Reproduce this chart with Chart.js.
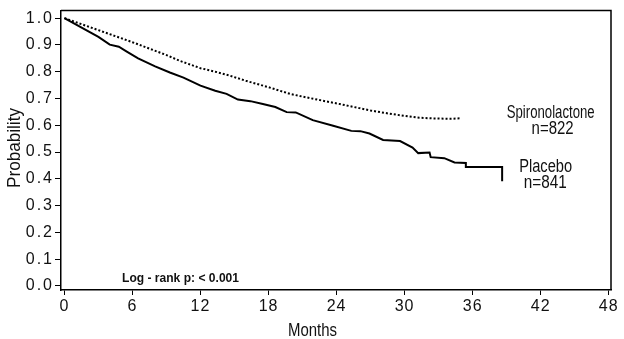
<!DOCTYPE html>
<html>
<head>
<meta charset="utf-8">
<script src="https://cdn.jsdelivr.net/npm/chart.js@4/dist/chart.umd.min.js"></script>
<style>
html,body{margin:0;padding:0;background:#fff;}
#wrap{width:624px;height:339px;position:relative;}
</style>
</head>
<body>
<div id="wrap"><canvas id="c" width="624" height="339"></canvas></div>
<script>
// ---- data ----
const xTickValues = [0, 6, 12, 18, 24, 30, 36, 42, 48];
const yTickValues = [0.0, 0.1, 0.2, 0.3, 0.4, 0.5, 0.6, 0.7, 0.8, 0.9, 1.0];

const spiroMonths = [0, 3, 6, 9, 10.2, 12, 13.3, 14.6, 16, 18, 19.9, 21, 22.5, 24.3, 26, 27, 28.7, 30, 31.3, 32.2, 33.1, 34, 34.9];
const spiroProb   = [1.0, 0.955, 0.91, 0.862, 0.84, 0.813, 0.80, 0.785, 0.766, 0.742, 0.717, 0.707, 0.694, 0.679, 0.664, 0.655, 0.643, 0.635, 0.628, 0.626, 0.625, 0.624, 0.626];

const placeboMonths = [0, 1, 2, 3, 4, 4.8, 5.5, 6.5, 8, 9.3, 10.5, 12, 13.3, 14.3, 15.3, 16.4, 17.5, 18.6, 19.6, 20.4, 21.9, 23.7, 25.3, 26.1, 26.9, 28.1, 29.6, 30.7, 31.2, 32.2, 32.3, 33.5, 34.4, 35.4, 35.4, 38.6, 38.6];
const placeboProb   = [1.0, 0.977, 0.953, 0.93, 0.901, 0.893, 0.875, 0.85, 0.82, 0.797, 0.778, 0.748, 0.729, 0.717, 0.696, 0.69, 0.679, 0.668, 0.649, 0.648, 0.619, 0.598, 0.579, 0.578, 0.569, 0.545, 0.541, 0.517, 0.496, 0.498, 0.481, 0.477, 0.461, 0.459, 0.444, 0.444, 0.391];

const seriesNames = ['Spironolactone', 'Placebo'];
const seriesCounts = ['n=822', 'n=841'];
const pValueText = 'Log - rank p: < 0.001';
const xTitle = 'Months';
const yTitle = 'Probability';

// ---- styling ----
const FONT = "'Liberation Sans', Arial, sans-serif";
const INK = '#111';

function toPoints(xs, ys) { return xs.map((x, i) => ({ x: x, y: ys[i] })); }

// text labels anchored in data coordinates (months, probability)
const annotations = [
  { text: seriesNames[0],  x: 39.0, y: 0.626, w: 88, size: 18, bold: false },
  { text: seriesCounts[0], x: 41.2, y: 0.567, w: 42, size: 18, bold: false },
  { text: seriesNames[1],  x: 40.1, y: 0.427, w: 53, size: 18, bold: false },
  { text: seriesCounts[1], x: 40.5, y: 0.366, w: 43, size: 18, bold: false },
  { text: pValueText,      x: 5.08, y: 0.015, w: 117, size: 13, bold: true }
];

const decorPlugin = {
  id: 'decor',
  beforeDraw(chart) {
    // letter-spaced tick labels like the reference
    Object.values(chart.scales).forEach(s => {
      if (s._wrapped) return;
      const orig = s.drawLabels;
      const sp = s.axis === 'y' ? '2px' : '1px';
      s.drawLabels = function (ca) {
        const ctx = this.ctx;
        ctx.save();
        ctx.letterSpacing = sp;
        orig.call(this, ca);
        ctx.restore();
      };
      s._wrapped = true;
    });
  },
  afterDraw(chart) {
    const ctx = chart.ctx;
    const a = chart.chartArea;
    const xs = chart.scales.x, ys = chart.scales.y;
    ctx.save();
    // top and right frame lines
    ctx.strokeStyle = '#000';
    ctx.lineWidth = 1.5;
    ctx.beginPath();
    ctx.moveTo(a.left, a.top);
    ctx.lineTo(a.right, a.top);
    ctx.lineTo(a.right, a.bottom);
    ctx.stroke();

    ctx.fillStyle = INK;
    ctx.textBaseline = 'alphabetic';
    ctx.textAlign = 'left';
    annotations.forEach(t => {
      ctx.font = (t.bold ? 'bold ' : '') + t.size + 'px ' + FONT;
      ctx.fillText(t.text, xs.getPixelForValue(t.x), ys.getPixelForValue(t.y), t.w);
    });

    // axis titles
    ctx.font = '18px ' + FONT;
    ctx.textAlign = 'left';
    ctx.fillText(xTitle, 288, 335.5, 49);
    ctx.save();
    ctx.translate(20, 148);
    ctx.rotate(-Math.PI / 2);
    ctx.textAlign = 'center';
    ctx.fillText(yTitle, 0, 0, 80);
    ctx.restore();
    ctx.restore();
  }
};

new Chart(document.getElementById('c'), {
  type: 'scatter',
  data: {
    datasets: [
      {
        label: seriesNames[0],
        data: toPoints(spiroMonths, spiroProb),
        showLine: true,
        borderColor: '#000',
        borderWidth: 2,
        borderDash: [2, 2],
        pointRadius: 0,
        fill: false,
        tension: 0
      },
      {
        label: seriesNames[1],
        data: toPoints(placeboMonths, placeboProb),
        showLine: true,
        borderColor: '#000',
        borderWidth: 2,
        pointRadius: 0,
        fill: false,
        tension: 0
      }
    ]
  },
  options: {
    responsive: false,
    animation: false,
    layout: { padding: { top: 7, right: 13, left: 0, bottom: 0 } },
    plugins: { legend: { display: false }, tooltip: { enabled: false } },
    scales: {
      x: {
        type: 'linear',
        min: -0.3,
        max: 48.2,
        afterBuildTicks: s => { s.ticks = xTickValues.map(v => ({ value: v })); },
        afterFit: s => { s.height = 49; },
        ticks: {
          color: INK,
          font: { family: FONT, size: 16 },
          padding: 2,
          autoSkip: false,
          maxRotation: 0,
          callback: v => String(v)
        },
        grid: { display: true, drawOnChartArea: false, drawTicks: true, tickLength: 5, color: '#000', lineWidth: 1 },
        border: { display: true, color: '#000', width: 1.5 },
        title: { display: false }
      },
      y: {
        type: 'linear',
        min: -0.015,
        max: 1.028,
        afterBuildTicks: s => { s.ticks = yTickValues.map(v => ({ value: v })); },
        afterFit: s => { s.width = 61; },
        ticks: {
          color: INK,
          font: { family: FONT, size: 16 },
          padding: 1,
          autoSkip: false,
          callback: v => Number(v).toFixed(1)
        },
        grid: { display: true, drawOnChartArea: false, drawTicks: true, tickLength: 6, color: '#000', lineWidth: 1 },
        border: { display: true, color: '#000', width: 1.5 },
        title: { display: false }
      }
    }
  },
  plugins: [decorPlugin]
});
</script>
</body>
</html>
